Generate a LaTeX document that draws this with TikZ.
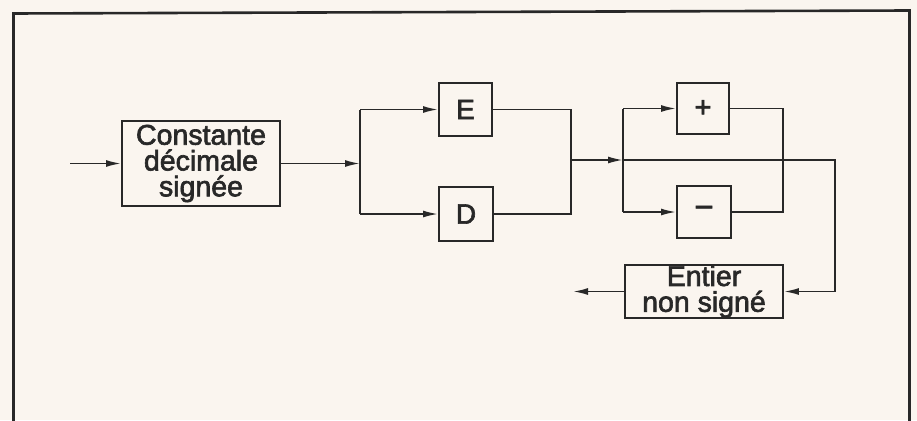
\documentclass[tikz,border=0pt]{standalone}
\usepackage{fontspec}
\setmainfont{Liberation Sans}[FakeBold=2.2]
\usetikzlibrary{arrows.meta}
\definecolor{paper}{RGB}{250,245,239}
\definecolor{ink}{RGB}{40,40,40}
\begin{document}
\begin{tikzpicture}[x=1pt,y=-1pt,
  blk/.style={draw=ink, line width=1.9pt, inner sep=0pt, text=ink, align=center},
  conn/.style={draw=ink, line width=1.8pt},
  arr/.style={conn, -{Latex[length=15pt,width=7pt]}},
  bigtxt/.style={font=\fontsize{28.5}{25.8}\selectfont},
  lettxt/.style={font=\fontsize{28}{30}\selectfont},
  ]
\fill[paper] (0,0) rectangle (917,420);
\useasboundingbox (0,0) rectangle (917,420);
\draw[ink, line width=2.6pt] (13.5,440) -- (13.5,13.5) -- (909.5,10.5) -- (909.5,440);

% blocks
\node[blk, bigtxt, minimum width=158pt, minimum height=85pt] (cds) at (201,163.5) {Constante\\décimale\\signée};
\node[blk, lettxt, minimum width=53pt, minimum height=53pt] (E) at (465.5,109.5) {E};
\node[blk, lettxt, minimum width=54pt, minimum height=54pt] (D) at (466,214) {D};
\node[blk, font=\fontsize{29}{30}\selectfont, minimum width=52pt, minimum height=51pt] (P) at (703,108.5) {+};
\node[blk, font=\fontsize{33}{34}\selectfont, minimum width=54pt, minimum height=52pt] (M) at (704,212) {−};
\node[blk, bigtxt, minimum width=158pt, minimum height=53pt] (ent) at (704,291.5) {Entier\\non signé};

% junction points
\coordinate (in) at (70,163.5);
\coordinate (s1) at (360,163.5);
\coordinate (j1) at (571,160);
\coordinate (s2) at (623,160);
\coordinate (j2) at (783,160);
\coordinate (c1) at (835,160);
\coordinate (out) at (573,291.5);

% connectors
\draw[arr] (in) -- (cds.west);
\draw[arr] (cds.east) -- (s1);
\draw[conn] (s1 |- E.west) -- (s1 |- D.west);
\draw[arr] (s1 |- E.west) -- (E.west);
\draw[arr] (s1 |- D.west) -- (D.west);
\draw[conn] (E.east) -| (j1) |- (D.east);
\draw[arr] (j1) -- (s2);
\draw[conn] (s2 |- P.west) -- (s2 |- M.west);
\draw[arr] (s2 |- P.west) -- (P.west);
\draw[arr] (s2 |- M.west) -- (M.west);
\draw[conn] (P.east) -| (j2) |- (M.east);
\draw[arr] (s2) -- (c1) |- (ent.east);
\draw[arr] (ent.west) -- (out);
\end{tikzpicture}
\end{document}
